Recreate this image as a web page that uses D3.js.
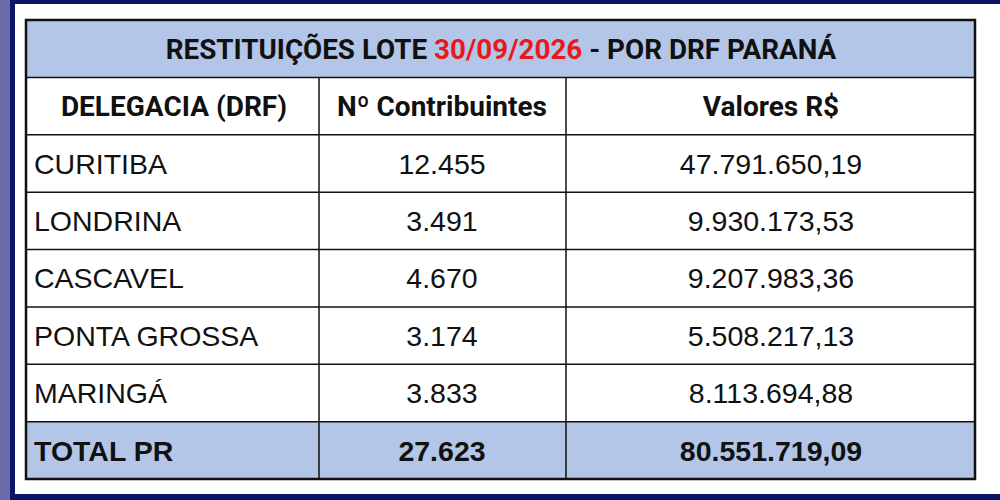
<!DOCTYPE html><html><head><meta charset="utf-8"><script src="https://cdn.jsdelivr.net/npm/d3@7"></script>
<style>body{margin:0;background:#fff}</style></head><body><svg id="c" width="1000" height="500"></svg>
<script>
const titlePre="RESTITUIÇÕES LOTE ", titleDate="30/09/2026", titlePost=" - POR DRF PARANÁ";
const headers=["DELEGACIA (DRF)","Nº Contribuintes","Valores R$"];
const categories=["CURITIBA","LONDRINA","CASCAVEL","PONTA GROSSA","MARINGÁ"];
const contribuintes=["12.455","3.491","4.670","3.174","3.833"];
const valores=["47.791.650,19","9.930.173,53","9.207.983,36","5.508.217,13","8.113.694,88"];
const total=["TOTAL PR","27.623","80.551.719,09"];

const svg=d3.select("#c");
const grad=svg.append("defs").append("linearGradient").attr("id","g");
grad.append("stop").attr("offset","0").attr("stop-color","#6a6aa8");
grad.append("stop").attr("offset","1").attr("stop-color","#b9b9d8");
svg.append("rect").attr("x",0).attr("y",0).attr("width",1000).attr("height",500).attr("fill","url(#g)");
svg.append("rect").attr("x",10).attr("y",0).attr("width",990).attr("height",500).attr("fill","#0d1464");
svg.append("rect").attr("x",15).attr("y",4).attr("width",985).attr("height",490).attr("fill","#fff");

const rowKeys=["title","head",...categories,"total"];
const y=d3.scaleBand().domain(rowKeys).range([20,479]);
const colX=[26,319,566,975];
const fill={title:"#b4c6e7",total:"#b4c6e7"};
rowKeys.forEach(k=>{
  svg.append("rect").attr("x",colX[0]).attr("y",y(k)).attr("width",colX[3]-colX[0]).attr("height",y.bandwidth()).attr("fill",fill[k]||"#fff");
});
const g=svg.append("g").attr("stroke","#111").attr("stroke-width",1.5);
rowKeys.slice(1).forEach(k=>g.append("line").attr("x1",colX[0]).attr("x2",colX[3]).attr("y1",y(k)).attr("y2",y(k)));
[1,2].forEach(i=>g.append("line").attr("x1",colX[i]).attr("x2",colX[i]).attr("y1",y("head")).attr("y2",479));
svg.append("rect").attr("x",colX[0]).attr("y",20).attr("width",colX[3]-colX[0]).attr("height",459).attr("fill","none").attr("stroke","#111").attr("stroke-width",2.5);

const mid=k=>y(k)+y.bandwidth()/2;
const head="Roboto, 'Noto Sans', sans-serif";
const tt=svg.append("text").attr("x",501).attr("y",mid("title")).attr("dy","0.36em").attr("text-anchor","middle")
 .attr("font-family",head).attr("font-weight",700).attr("font-size",27.8).attr("fill","#111");
tt.append("tspan").text(titlePre);tt.append("tspan").attr("fill","#e8191e").text(titleDate);tt.append("tspan").text(titlePost);
const hx=[174,442,771];
headers.forEach((h,i)=>svg.append("text").attr("x",hx[i]).attr("y",mid("head")).attr("dy","0.36em").attr("text-anchor","middle")
 .attr("font-family",head).attr("font-weight",700).attr("font-size",28).attr("fill","#111").text(h));
const body="'Liberation Sans', Arial, sans-serif";
categories.forEach((c,i)=>{
  const t=(x,a,s)=>svg.append("text").attr("x",x).attr("y",mid(c)).attr("dy","0.36em").attr("text-anchor",a)
   .attr("font-family",body).attr("font-size",28.5).attr("fill","#111").text(s);
  t(34,"start",c);t(442,"middle",contribuintes[i]);t(771,"middle",valores[i]);
});
const tf=(x,a,s)=>svg.append("text").attr("x",x).attr("y",mid("total")).attr("dy","0.36em").attr("text-anchor",a)
 .attr("font-family",body).attr("font-weight",700).attr("font-size",28.5).attr("fill","#111").text(s);
tf(34,"start",total[0]);tf(442,"middle",total[1]);tf(771,"middle",total[2]);
</script></body></html>
